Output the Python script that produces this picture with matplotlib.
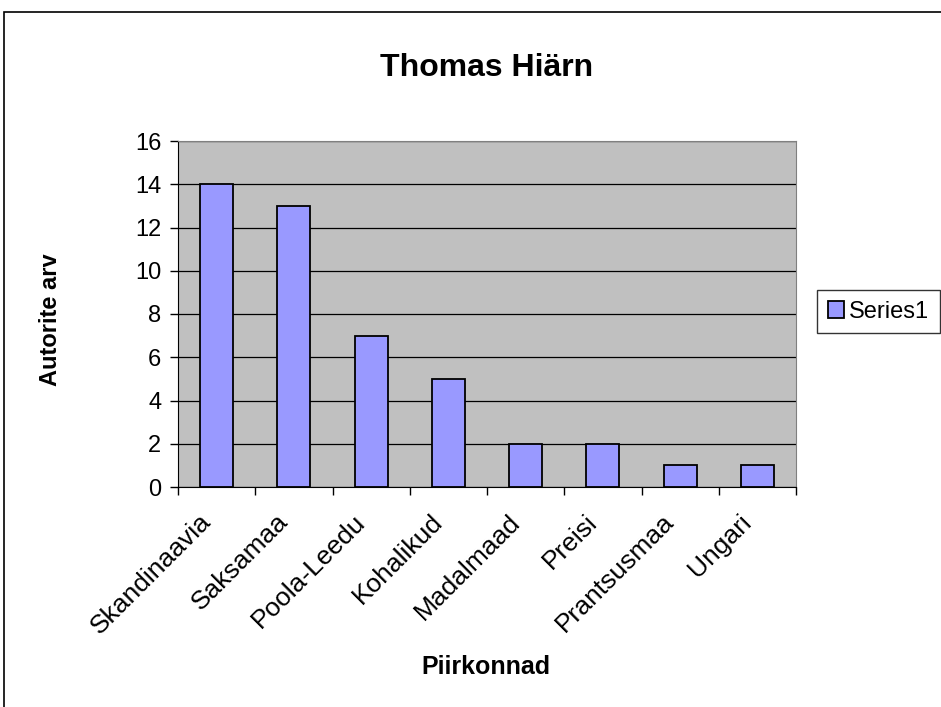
import matplotlib.pyplot as plt
import matplotlib.patches as patches
import matplotlib.transforms as mtransforms
import numpy as np

# data
regions = ['Skandinaavia', 'Saksamaa', 'Poola-Leedu', 'Kohalikud',
           'Madalmaad', 'Preisi', 'Prantsusmaa', 'Ungari']
authors = [14, 13, 7, 5, 2, 2, 1, 1]
y_ticks = [0, 2, 4, 6, 8, 10, 12, 14, 16]

plt.rcParams['font.family'] = ['Liberation Sans', 'DejaVu Sans']

fig = plt.figure(figsize=(9.41, 7.07), dpi=100)
ax = fig.add_axes([178/941, 1-487/707, (796-178)/941, (487-141)/707])

# outer chart frame (cut off on right and bottom like the original)
fig.patches.append(patches.Rectangle((4/941, -0.1), 1.2, 1-12/707+0.1,
                                     transform=fig.transFigure, fill=False,
                                     edgecolor='black', linewidth=1.2))

x = np.arange(len(regions))
ax.set_facecolor('#C0C0C0')
ax.set_axisbelow(True)
ax.yaxis.grid(True, color='black', linewidth=0.9)
bars = ax.bar(x, authors, width=0.43, color='#9999FF', edgecolor='black',
              linewidth=1.3, label='Series1', zorder=3)

ax.set_xlim(-0.5, len(regions) - 0.5)
ax.set_ylim(0, 16)
ax.set_yticks(y_ticks)
ax.tick_params(axis='y', direction='out', length=6, width=1, labelsize=17, pad=6)

ax.set_xticks(x)
ax.set_xticklabels(regions, rotation=45, ha='right', rotation_mode='anchor', fontsize=19)
ax.set_xticks(np.arange(len(regions) + 1) - 0.5, minor=True)
ax.tick_params(axis='x', which='major', length=0, pad=12)
ax.tick_params(axis='x', which='minor', direction='out', length=6, width=1)
# nudge the slanted labels a bit left/down like Excel does
shift = mtransforms.ScaledTranslation(-18/100, -6/100, fig.dpi_scale_trans)
for lab in ax.get_xticklabels():
    lab.set_transform(lab.get_transform() + shift)

ax.spines['left'].set_color('black')
ax.spines['bottom'].set_color('black')
ax.spines['top'].set_color('#808080')
ax.spines['right'].set_color('#808080')

ax.set_ylabel('Autorite arv', fontsize=17, fontweight='bold')
ax.yaxis.set_label_coords((62-178)/618, (487-320)/346)
ax.set_xlabel('Piirkonnad', fontsize=18, fontweight='bold')
ax.xaxis.set_label_coords((486-178)/618, (487-655)/346)
fig.text(487/941, 1-68/707, 'Thomas Hiärn', fontsize=23, fontweight='bold',
         ha='center', va='center')

leg = fig.legend(handles=[bars], labels=['Series1'], loc='upper left',
                 bbox_to_anchor=(817/941, 1-290/707), fontsize=17, frameon=True,
                 fancybox=False, edgecolor='black', handlelength=0.7,
                 handleheight=0.7, handletextpad=0.2, borderpad=0.45,
                 borderaxespad=0)
leg.get_frame().set_linewidth(1)

fig.savefig('out.png', dpi=100)
